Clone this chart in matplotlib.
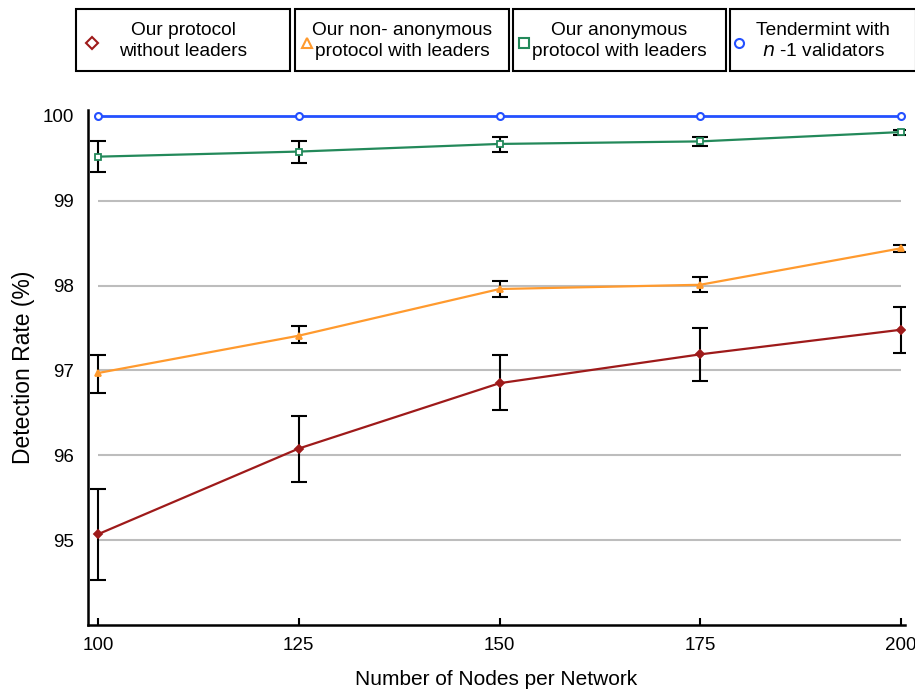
import matplotlib
matplotlib.use("Agg")
import matplotlib.pyplot as plt
from matplotlib.patches import Rectangle
from matplotlib.lines import Line2D

plt.rcParams['font.family'] = ['Liberation Sans', 'DejaVu Sans']

nodes = [100, 125, 150, 175, 200]

red_vals = [95.07, 96.08, 96.85, 97.19, 97.48]
red_lo = [94.53, 95.69, 96.53, 96.88, 97.21]
red_hi = [95.60, 96.46, 97.18, 97.50, 97.75]

orange_vals = [96.97, 97.41, 97.96, 98.01, 98.44]
orange_lo = [96.74, 97.32, 97.87, 97.92, 98.40]
orange_hi = [97.18, 97.52, 98.05, 98.10, 98.48]

green_vals = [99.52, 99.58, 99.67, 99.70, 99.81]
green_lo = [99.34, 99.45, 99.58, 99.64, 99.78]
green_hi = [99.71, 99.71, 99.75, 99.75, 99.84]

blue_vals = [100, 100, 100, 100, 100]

y_ticks = [95, 96, 97, 98, 99, 100]

labels = ["Our protocol\nwithout leaders",
          "Our non- anonymous\nprotocol with leaders",
          "Our anonymous\nprotocol with leaders",
          "Tendermint with\n$\\it{n}$ -1 validators"]

c_red = "#9e1a1a"
c_orange = "#ff9a2e"
c_green = "#23895a"
c_blue = "#2450ff"

fig = plt.figure(figsize=(9.15, 6.9), dpi=100)
ax = fig.add_axes([88/915, 1-625/690, (905-88)/915, (625-110)/690])

ax.set_xlim(98.75, 200.5)
ax.set_ylim(94.0, 100.07)

ax.hlines([95, 96, 97, 98, 99], 100, 200, colors="#bdbdbd", lw=1.5, zorder=0)

def err(vals, lo, hi):
    return [[v - l for v, l in zip(vals, lo)], [h - v for v, h in zip(vals, hi)]]

series = [
    (red_vals, red_lo, red_hi, c_red, "D", c_red, 4),
    (orange_vals, orange_lo, orange_hi, c_orange, "^", c_orange, 4),
    (green_vals, green_lo, green_hi, c_green, "s", "white", 5),
]
for vals, lo, hi, col, mk, fc, ms in series:
    ax.errorbar(nodes, vals, yerr=err(vals, lo, hi), fmt='none', ecolor='black',
                elinewidth=1.5, capsize=6, capthick=1.5, zorder=2)
    ax.plot(nodes, vals, color=col, lw=1.6, marker=mk, ms=ms, mfc=fc, mec=col,
            mew=1.3, zorder=3)

ax.plot(nodes, blue_vals, color=c_blue, lw=2, marker='o', ms=5, mfc='white',
        mec=c_blue, mew=1.5, zorder=3, clip_on=False)

for s in ['top', 'right']:
    ax.spines[s].set_visible(False)
for s in ['left', 'bottom']:
    ax.spines[s].set_linewidth(1.8)

ax.set_xticks(nodes)
ax.set_xticklabels([str(n) for n in nodes])
ax.set_yticks(y_ticks)
ax.set_yticklabels([str(t) for t in y_ticks])
ax.tick_params(axis='x', direction='in', length=5, width=1.5, pad=9, labelsize=13.5)
ax.tick_params(axis='y', length=0, pad=10, labelsize=13.5)

ax.set_xlabel("Number of Nodes per Network", fontsize=15, labelpad=11)
ax.set_ylabel("Detection Rate (%)", fontsize=16.5, labelpad=5.5)

# legend boxes
boxes = [(76, 290), (295, 509), (513, 726), (730, 916)]
marker_x = [92, 307, 524, 739]
markers = [("D", c_red), ("^", c_orange), ("s", c_green), ("o", c_blue)]
y0, y1 = 9, 71
for (bx0, bx1), mxp, lab, (mk, col) in zip(boxes, marker_x, labels, markers):
    fig.add_artist(Rectangle((bx0/915, 1-y1/690), (bx1-bx0)/915, (y1-y0)/690,
                             transform=fig.transFigure, fill=False,
                             edgecolor='black', lw=1.5))
    fig.add_artist(Line2D([mxp/915], [1-43/690], transform=fig.transFigure,
                          marker=mk, ms=6.5 if mk != "D" else 6, mfc='white',
                          mec=col, mew=1.5, lw=0))
    fig.text((bx0+bx1)/2/915, 1-41/690, lab, ha='center', va='center',
             fontsize=13.8, linespacing=1.3)

fig.savefig("out.png", dpi=100)
